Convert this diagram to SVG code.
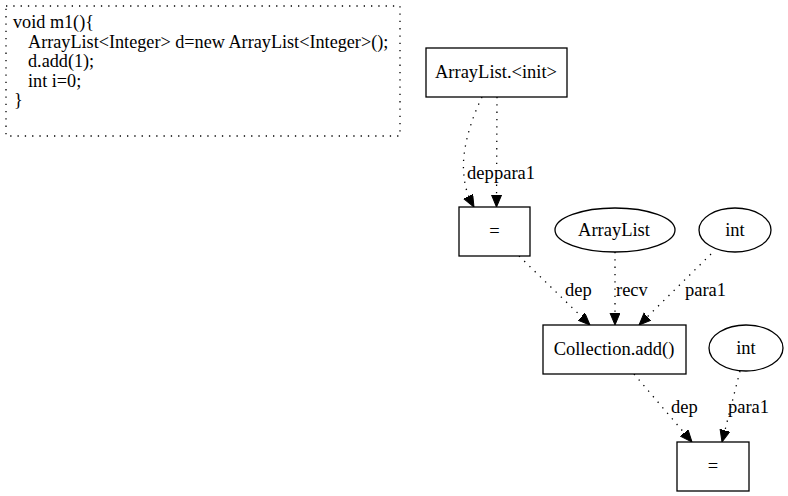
<svg xmlns="http://www.w3.org/2000/svg" width="788" height="496" viewBox="0 0 788 496">
<style>
.t{font-family:'Liberation Serif','Times New Roman',serif;font-size:18.5px;fill:#000}
.n{fill:#fff;stroke:#000;stroke-width:1.3}
.e{fill:none;stroke:#000;stroke-width:1.3;stroke-dasharray:1.3,6}
.c{text-anchor:middle}
</style>
<defs>
<marker id="ah" markerUnits="userSpaceOnUse" markerWidth="13" markerHeight="11" refX="12" refY="5" orient="auto">
<path d="M0,0 L12,5 L0,10 z" fill="#000" stroke="#000"/>
</marker>
</defs>
<rect width="788" height="496" fill="#fff"/>
<g id="code" class="t" style="font-size:18.2px">
<rect x="6" y="6" width="394" height="130" fill="none" stroke="#000" stroke-width="1.3" stroke-dasharray="1.3,6"/>
<text x="13" y="28">void m1(){</text>
<text x="28" y="47.5">ArrayList&lt;Integer&gt; d=new ArrayList&lt;Integer&gt;();</text>
<text x="28" y="67">d.add(1);</text>
<text x="28" y="86.5">int i=0;</text>
<text x="14" y="106">}</text>
</g>
<g id="edges" class="t">
<path class="e" d="M482,97 C470,122 461,152 464,176 C465,188 468,196 474,207" marker-end="url(#ah)"/>
<text x="467" y="179">dep</text>
<path class="e" d="M497,97 L496.5,207" marker-end="url(#ah)"/>
<text x="494" y="179">para1</text>
<path class="e" d="M519,256 L590,325" marker-end="url(#ah)"/>
<text x="565" y="296">dep</text>
<path class="e" d="M615,252 L615,325" marker-end="url(#ah)"/>
<text x="616" y="296">recv</text>
<path class="e" d="M711,254 L639,325" marker-end="url(#ah)"/>
<text x="685" y="296">para1</text>
<path class="e" d="M634,374 L692,442" marker-end="url(#ah)"/>
<text x="671" y="413">dep</text>
<path class="e" d="M740,371 L722,442" marker-end="url(#ah)"/>
<text x="728" y="413">para1</text>
</g>
<g id="n_init" class="t">
<rect class="n" x="426" y="48" width="141" height="49"/>
<text class="c" x="496" y="78">ArrayList.&lt;init&gt;</text>
</g>
<g id="n_eq1" class="t">
<rect class="n" x="459" y="207" width="71" height="49"/>
<text class="c" x="494.5" y="237">=</text>
</g>
<g id="n_arraylist" class="t">
<ellipse class="n" cx="615" cy="230" rx="60" ry="22"/>
<text class="c" x="614" y="236">ArrayList</text>
</g>
<g id="n_int1" class="t">
<ellipse class="n" cx="735" cy="230" rx="36" ry="22"/>
<text class="c" x="735" y="236">int</text>
</g>
<g id="n_add" class="t">
<rect class="n" x="543" y="325" width="143" height="49"/>
<text class="c" x="614" y="355">Collection.add()</text>
</g>
<g id="n_int2" class="t">
<ellipse class="n" cx="746" cy="348" rx="37" ry="23"/>
<text class="c" x="746" y="354">int</text>
</g>
<g id="n_eq2" class="t">
<rect class="n" x="677" y="442" width="72" height="49"/>
<text class="c" x="713" y="472">=</text>
</g>
</svg>
